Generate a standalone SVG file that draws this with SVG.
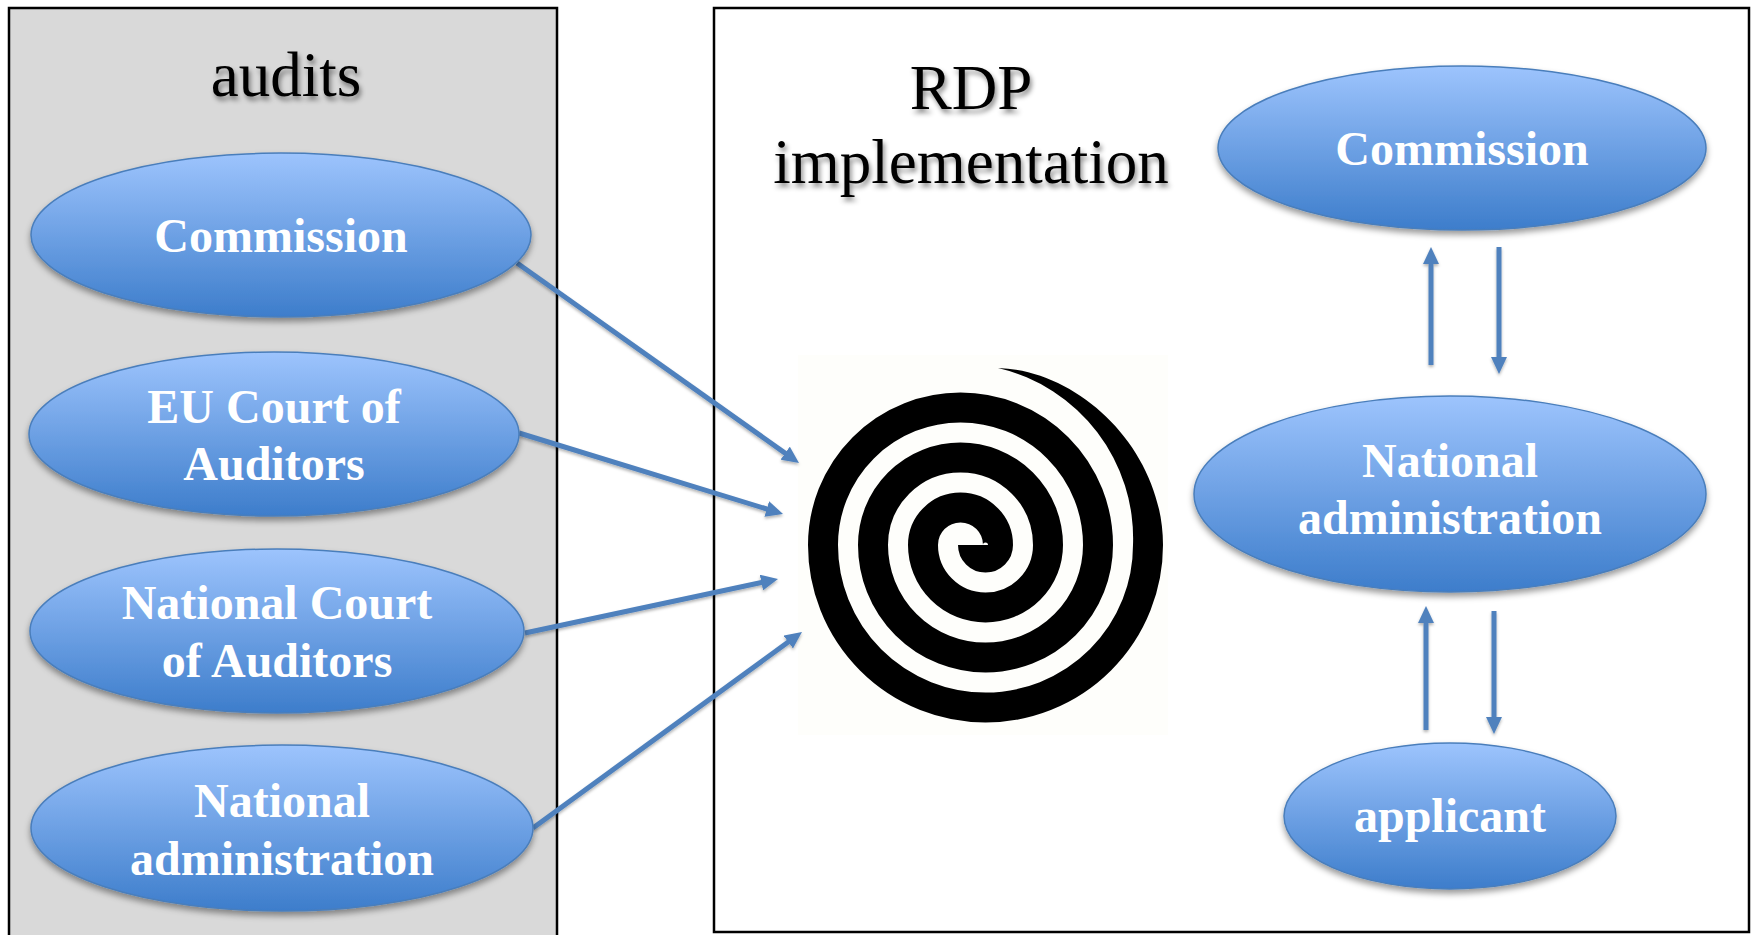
<svg xmlns="http://www.w3.org/2000/svg" width="1761" height="935" viewBox="0 0 1761 935">
<defs>
<linearGradient id="blue" x1="0" y1="0" x2="0" y2="1">
<stop offset="0" stop-color="#9dc4fd"/>
<stop offset="1" stop-color="#3d7dcb"/>
</linearGradient>
<filter id="sh" x="-10%" y="-10%" width="120%" height="130%">
<feDropShadow dx="0" dy="4" stdDeviation="3" flood-color="#000" flood-opacity="0.4"/>
</filter>
<filter id="tsh" x="-10%" y="-20%" width="120%" height="150%">
<feDropShadow dx="2" dy="4" stdDeviation="2.5" flood-color="#000" flood-opacity="0.45"/>
</filter>
<filter id="lsh" x="-10%" y="-10%" width="120%" height="130%">
<feDropShadow dx="0" dy="2" stdDeviation="1.5" flood-color="#000" flood-opacity="0.3"/>
</filter>
<marker id="ah" viewBox="0 0 17 16" refX="8.5" refY="8" markerWidth="17" markerHeight="16" markerUnits="userSpaceOnUse" orient="auto">
<path d="M0,0 L17,8 L0,16 z" fill="#4f81bd"/>
</marker>
</defs>
<style>
.node ellipse{fill:url(#blue);stroke:#4a7ebb;stroke-width:1.5;filter:url(#sh)}
.node text{font-family:"Liberation Serif","Times New Roman",serif;font-weight:bold;font-size:48px;fill:#fff;text-anchor:middle}
.title{font-family:"Liberation Serif","Times New Roman",serif;font-size:63px;fill:#000;text-anchor:middle;filter:url(#tsh)}
.conn line{stroke:#4f81bd;stroke-width:5;marker-end:url(#ah)}
</style>
<rect x="0" y="0" width="1761" height="935" fill="#fff"/>
<g id="panel-audits">
<rect x="9" y="8" width="548" height="940" fill="#d9d9d9" stroke="#000" stroke-width="2.5"/>
<text class="title" x="286" y="96">audits</text>
</g>
<g id="panel-rdp">
<rect x="714" y="8" width="1035" height="924" fill="#fff" stroke="#000" stroke-width="2.5"/>
<text class="title" x="971" y="109">RDP</text>
<text class="title" x="971" y="183">implementation</text>
</g>
<g id="spiral">
<rect x="798" y="355" width="370" height="380" fill="#fefefb"/>
<path d="M973 545 A12.5 12.5 0 0 0 998 545 A37.5 37.5 0 0 0 923 545 A62.5 62.5 0 0 0 1048 545 A87.5 87.5 0 0 0 873 545 A112.5 112.5 0 0 0 1098 545 A137.5 137.5 0 0 0 823 545 A162.5 162.5 0 0 0 1148 545" fill="none" stroke="#000" stroke-width="30"/>
<path d="M1163 545 C1163 450 1080 370 998 368 A175 175 0 0 1 1133 545 Z" fill="#000"/>
</g>
<g id="connectors" class="conn" filter="url(#lsh)">
<line x1="517" y1="263" x2="792.1" y2="458.1"/>
<line x1="519" y1="433" x2="774.9" y2="511.5"/>
<line x1="525" y1="633" x2="769.7" y2="580.8"/>
<line x1="533" y1="828" x2="795.1" y2="637"/>
<line x1="1431" y1="365" x2="1431" y2="255.5"/>
<line x1="1499" y1="247" x2="1499" y2="365.5"/>
<line x1="1426" y1="730" x2="1426" y2="614.5"/>
<line x1="1494" y1="611" x2="1494" y2="725.5"/>
</g>
<g id="n-commission-left" class="node">
<ellipse cx="281" cy="235" rx="250" ry="82"/>
<text x="281" y="252">Commission</text>
</g>
<g id="n-eu-court" class="node">
<ellipse cx="274" cy="434" rx="245" ry="82"/>
<text x="274" y="423">EU Court of</text>
<text x="274" y="480">Auditors</text>
</g>
<g id="n-national-court" class="node">
<ellipse cx="277" cy="631" rx="247" ry="82"/>
<text x="277" y="619">National Court</text>
<text x="277" y="677">of Auditors</text>
</g>
<g id="n-national-admin-left" class="node">
<ellipse cx="282" cy="828" rx="251" ry="83"/>
<text x="282" y="817">National</text>
<text x="282" y="875">administration</text>
</g>
<g id="n-commission-right" class="node">
<ellipse cx="1462" cy="148" rx="244" ry="82"/>
<text x="1462" y="165">Commission</text>
</g>
<g id="n-national-admin-right" class="node">
<ellipse cx="1450" cy="494" rx="256" ry="98"/>
<text x="1450" y="477">National</text>
<text x="1450" y="534">administration</text>
</g>
<g id="n-applicant" class="node">
<ellipse cx="1450" cy="816" rx="166" ry="73"/>
<text x="1450" y="832">applicant</text>
</g>
</svg>
